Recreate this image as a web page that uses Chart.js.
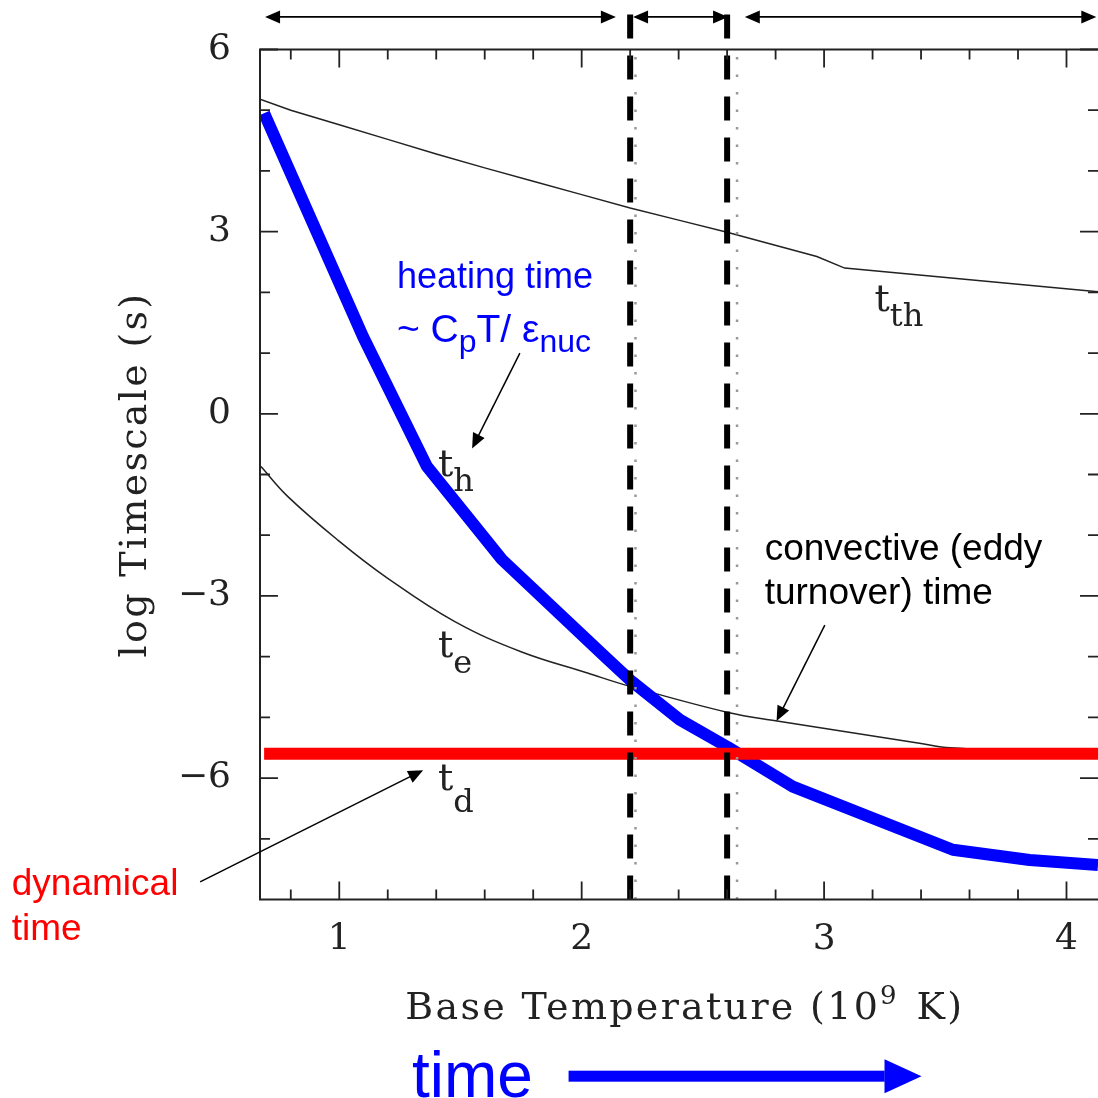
<!DOCTYPE html>
<html>
<head>
<meta charset="utf-8">
<script src="https://cdn.jsdelivr.net/npm/chart.js@4.4.1/dist/chart.umd.min.js"></script>
<style>
  html, body { margin: 0; padding: 0; background: #fff; }
  #chart { display: block; }
</style>
</head>
<body>
<canvas id="chart" width="1098" height="1098"></canvas>
<script>
// heating time t_h (thick blue trace)
const heatX = [0.69, 1.098, 1.362, 1.671, 2.096, 2.207, 2.405, 2.603, 2.871, 3.531, 3.848, 4.13];
const heatY = [4.95, 1.27, -0.87, -2.40, -4.00, -4.41, -5.04, -5.49, -6.14, -7.18, -7.35, -7.43];

// thermal time t_th
const thermX = [0.673, 0.8, 1.0, 1.2, 1.4, 1.6, 1.8, 2.0, 2.2, 2.4, 2.6, 2.97, 3.085, 4.13];
const thermY = [5.18, 5.0, 4.76, 4.52, 4.28, 4.05, 3.83, 3.61, 3.39, 3.19, 2.99, 2.59, 2.40, 2.01];

// eddy turnover time t_e
const eddyX = [0.677, 0.787, 0.994, 1.2, 1.475, 1.75, 2.024, 2.2, 2.604, 2.806, 3.4, 3.52, 4.13];
const eddyY = [-0.87, -1.36, -2.08, -2.71, -3.42, -3.92, -4.27, -4.49, -4.92, -5.06, -5.43, -5.5, -5.62];

// dynamical time t_d
const dynX = [0.69, 4.13];
const dynY = [-5.6, -5.6];

// phase boundaries
const phaseEdges = [2.2, 2.6];
const dottedEdges = [2.222, 2.641];

const xTicks = [1, 2, 3, 4];
const yTicks = [6, 3, 0, -3, -6];
const xMinor = [0.8, 1.2, 1.4, 1.6, 1.8, 2.2, 2.4, 2.6, 2.8, 3.2, 3.4, 3.6, 3.8];
const yMinor = [5, 4, 2, 1, -1, -2, -4, -5, -7];

const serif = "'DejaVu Serif', 'Liberation Serif', serif";
const sans = "'Liberation Sans', Arial, sans-serif";

function pts(xs, ys) {
    return xs.map((x, i) => ({ x: x, y: ys[i] }));
}

function arrowHead(ctx, x1, y1, x2, y2, len, half) {
    const a = Math.atan2(y2 - y1, x2 - x1);
    ctx.beginPath();
    ctx.moveTo(x2, y2);
    ctx.lineTo(x2 - len * Math.cos(a) + half * Math.sin(a), y2 - len * Math.sin(a) - half * Math.cos(a));
    ctx.lineTo(x2 - len * Math.cos(a) - half * Math.sin(a), y2 - len * Math.sin(a) + half * Math.cos(a));
    ctx.closePath();
    ctx.fill();
}

function arrow(ctx, x1, y1, x2, y2, both) {
    const a = Math.atan2(y2 - y1, x2 - x1);
    ctx.beginPath();
    ctx.moveTo(x1 + (both ? 10 * Math.cos(a) : 0), y1 + (both ? 10 * Math.sin(a) : 0));
    ctx.lineTo(x2 - 10 * Math.cos(a), y2 - 10 * Math.sin(a));
    ctx.stroke();
    arrowHead(ctx, x1, y1, x2, y2, 15, 6.5);
    if (both) arrowHead(ctx, x2, y2, x1, y1, 15, 6.5);
}

// text runs: [text, size, baseline shift]
function rich(ctx, x, y, runs, family, color) {
    ctx.fillStyle = color;
    ctx.textBaseline = "alphabetic";
    ctx.textAlign = "left";
    let cx = x;
    runs.forEach(r => {
        ctx.font = r[1] + "px " + family;
        ctx.fillText(r[0], cx, y + r[2]);
        cx += ctx.measureText(r[0]).width;
    });
}

const overlay = {
    id: "overlay",
    afterDraw(chart) {
        const ctx = chart.ctx;
        const area = chart.chartArea;
        const X = v => chart.scales.x.getPixelForValue(v);
        const Y = v => chart.scales.y.getPixelForValue(v);

        ctx.save();
        // frame and inward ticks
        ctx.strokeStyle = "#222";
        ctx.lineWidth = 2;
        ctx.strokeRect(area.left, area.top, area.right - area.left + 4, area.bottom - area.top);
        ctx.lineWidth = 1.8;
        ctx.beginPath();
        xTicks.concat(xMinor).forEach(v => {
            const len = xTicks.includes(v) ? 18 : 10;
            ctx.moveTo(X(v), area.bottom); ctx.lineTo(X(v), area.bottom - len);
            ctx.moveTo(X(v), area.top); ctx.lineTo(X(v), area.top + len);
        });
        yTicks.concat(yMinor).forEach(v => {
            const len = yTicks.includes(v) ? 18 : 10;
            ctx.moveTo(area.left, Y(v)); ctx.lineTo(area.left + len, Y(v));
            ctx.moveTo(area.right, Y(v)); ctx.lineTo(area.right - len, Y(v));
        });
        ctx.stroke();

        // axis titles (letter-spaced serif)
        ctx.letterSpacing = "2.3px";
        ctx.font = "38px " + serif;
        const t1 = "Base Temperature (10", t3 = " K)";
        const w1 = ctx.measureText(t1).width, w3 = ctx.measureText(t3).width;
        ctx.font = "26px " + serif;
        const w2 = ctx.measureText("9").width + 3;
        const tx = X(2.425) - (w1 + w2 + w3) / 2;
        rich(ctx, tx, Y(-9.96), [[t1, 38, 0], ["9", 26, -15], [" ", 3, 0], [t3, 38, 0]], serif, "#222");

        ctx.save();
        ctx.translate(X(0.16), Y(-1.0));
        ctx.rotate(-Math.PI / 2);
        ctx.font = "38px " + serif;
        ctx.textAlign = "center";
        ctx.textBaseline = "middle";
        ctx.fillStyle = "#222";
        ctx.fillText("log Timescale (s)", 0, 0);
        ctx.restore();
        ctx.letterSpacing = "0px";

        // curve labels
        rich(ctx, X(1.407), Y(-1.02), [["t", 38, 0], ["h", 32, 15]], serif, "#222");
        rich(ctx, X(3.208), Y(1.69), [["t", 38, 0], ["th", 32, 15]], serif, "#222");
        rich(ctx, X(1.407), Y(-4.0), [["t", 38, 0], ["e", 32, 16]], serif, "#222");
        rich(ctx, X(1.407), Y(-6.2), [["t", 38, 0], ["d", 32, 22]], serif, "#222");

        // annotations
        rich(ctx, X(1.238), Y(2.07), [["heating time", 36, 0]], sans, "#0000ff");
        rich(ctx, X(1.238), Y(1.18), [["~ C", 39, 0], ["p", 32, 10], ["T/ \u03b5", 39, 0], ["nuc", 32, 10]], sans, "#0000ff");
        rich(ctx, X(2.755), Y(-2.41), [["convective (eddy", 37, 0]], sans, "#000");
        rich(ctx, X(2.755), Y(-3.13), [["turnover) time", 37, 0]], sans, "#000");
        rich(ctx, X(-0.351), Y(-7.93), [["dynamical", 37, 0]], sans, "#ff0000");
        rich(ctx, X(-0.351), Y(-8.66), [["time", 37, 0]], sans, "#ff0000");
        rich(ctx, X(1.3), Y(-11.25), [["time", 64, 0]], sans, "#0000ff");

        ctx.strokeStyle = "#000";
        ctx.fillStyle = "#000";
        ctx.lineWidth = 1.5;
        arrow(ctx, X(1.745), Y(1.0), X(1.548), Y(-0.57), false);
        arrow(ctx, X(3.003), Y(-3.48), X(2.804), Y(-5.06), false);
        arrow(ctx, X(0.426), Y(-7.71), X(1.346), Y(-5.87), false);

        // phase span arrows above the frame
        ctx.lineWidth = 1.8;
        arrow(ctx, X(0.694), Y(6.536), X(2.141), Y(6.536), true);
        arrow(ctx, X(2.212), Y(6.536), X(2.604), Y(6.536), true);
        arrow(ctx, X(2.673), Y(6.536), X(4.123), Y(6.536), true);

        // big "time" arrow
        ctx.fillStyle = "#0000ff";
        const ay = Y(-10.91);
        ctx.fillRect(X(1.946), ay - 5.5, X(3.25) - X(1.946), 11);
        arrowHead(ctx, X(1.946), ay, X(3.402), ay, 37, 17);
        ctx.restore();
    }
};

const vline = (x, y0, y1) => [{ x: x, y: y0 }, { x: x, y: y1 }];

new Chart(document.getElementById("chart"), {
    type: "line",
    data: {
        datasets: [
            { data: vline(phaseEdges[0], -8, 6.82), borderColor: "#000", borderWidth: 6, borderDash: [24, 17], clip: false, order: 0 },
            { data: vline(phaseEdges[1], -8, 6.82), borderColor: "#000", borderWidth: 6, borderDash: [24, 17], clip: false, order: 0 },
            { data: vline(dottedEdges[0], -8, 6), borderColor: "#999", borderWidth: 2.5, borderDash: [2.5, 15], order: 1 },
            { data: vline(dottedEdges[1], -8, 6), borderColor: "#999", borderWidth: 2.5, borderDash: [2.5, 15], order: 1 },
            { data: pts(dynX, dynY), borderColor: "#ff0000", borderWidth: 12, order: 2 },
            { data: pts(heatX, heatY), borderColor: "#0000ff", borderWidth: 12, borderJoinStyle: "round", order: 3 },
            { data: pts(thermX, thermY), borderColor: "#222", borderWidth: 1.5, order: 4 },
            { data: pts(eddyX, eddyY), borderColor: "#222", borderWidth: 1.5, tension: 0.4, order: 4 }
        ]
    },
    options: {
        responsive: false,
        animation: false,
        devicePixelRatio: 1,
        layout: { padding: { top: 49.5, right: 0, left: 0, bottom: 0 } },
        elements: { point: { radius: 0 }, line: { tension: 0 } },
        plugins: { legend: { display: false }, tooltip: { enabled: false } },
        scales: {
            x: {
                type: "linear",
                min: 0.673,
                max: 4.13,
                grid: { display: false },
                border: { display: false },
                afterBuildTicks: s => { s.ticks = xTicks.map(v => ({ value: v })); },
                afterFit: s => { s.height = 198.5; },
                ticks: { padding: 11, color: "#222", font: { family: serif, size: 36 } }
            },
            y: {
                type: "linear",
                min: -8,
                max: 6,
                grid: { display: false },
                border: { display: false },
                afterBuildTicks: s => { s.ticks = yTicks.map(v => ({ value: v })); },
                afterFit: s => { s.width = 260; },
                ticks: {
                    padding: 21,
                    color: "#222",
                    font: { family: serif, size: 36 },
                    callback: v => v < 0 ? "\u2212" + Math.abs(v) : String(v)
                }
            }
        }
    },
    plugins: [overlay]
});
</script>
</body>
</html>
